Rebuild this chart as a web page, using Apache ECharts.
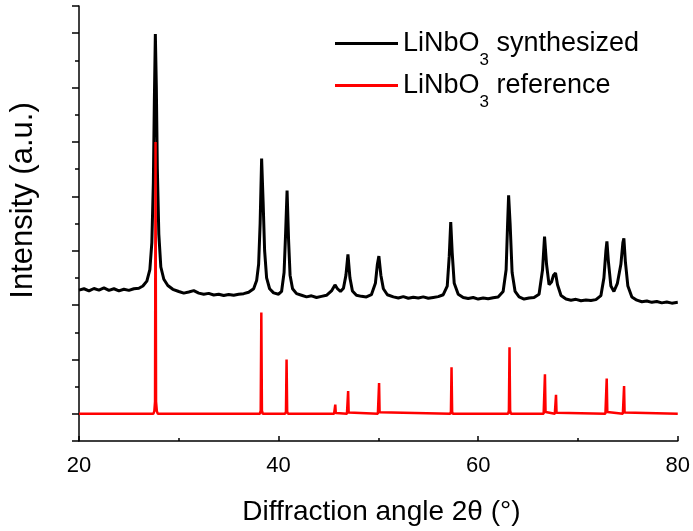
<!DOCTYPE html>
<html>
<head>
<meta charset="utf-8">
<script src="https://cdn.jsdelivr.net/npm/echarts@6/dist/echarts.min.js"></script>
<style>
html,body{margin:0;padding:0;background:#fff;}
#chart{width:693px;height:531px;}
</style>
</head>
<body>
<div id="chart"></div>
<script>
// Synthesized LiNbO3 pattern (2θ in degrees, intensity in plot units, offset trace)
const synthAngle = [20.0,20.5,21.0,21.5,22.0,22.5,23.0,23.5,24.0,24.5,25.0,25.5,26.0,26.4,26.8,27.1,27.3,27.45,27.55,27.65,27.75,27.85,28.0,28.2,28.5,28.9,29.4,30.0,30.5,31.0,31.5,32.0,32.5,33.0,33.5,34.0,34.5,35.0,35.5,36.0,36.5,37.0,37.5,37.8,38.0,38.15,38.3,38.45,38.6,38.8,39.1,39.5,40.0,40.3,40.55,40.7,40.85,41.0,41.15,41.4,41.8,42.3,42.8,43.3,43.8,44.3,44.8,45.3,45.65,45.9,46.2,46.5,46.75,46.95,47.15,47.4,47.8,48.3,48.8,49.3,49.7,49.9,50.05,50.25,50.5,50.9,51.5,52.0,52.5,53.0,53.5,54.0,54.5,55.0,55.5,56.0,56.5,56.9,57.1,57.25,57.4,57.6,58.0,58.5,59.0,59.5,60.0,60.5,61.0,61.5,62.0,62.5,62.8,62.95,63.05,63.2,63.4,63.7,64.1,64.6,65.1,65.6,66.1,66.45,66.65,66.85,67.1,67.35,67.55,67.75,67.95,68.3,68.8,69.3,69.8,70.3,70.8,71.3,71.8,72.3,72.6,72.8,72.9,73.05,73.3,73.6,73.95,74.3,74.5,74.6,74.75,75.0,75.4,75.9,76.4,76.9,77.4,77.9,78.4,78.9,79.4,80.0];
const synthInt = [4.55,4.60,4.52,4.61,4.55,4.63,4.54,4.60,4.52,4.58,4.54,4.60,4.62,4.70,4.88,5.3,6.3,8.5,11.5,13.97,12.0,9.0,6.6,5.4,4.95,4.72,4.58,4.50,4.44,4.48,4.53,4.44,4.40,4.43,4.37,4.40,4.35,4.39,4.36,4.40,4.42,4.47,4.6,4.9,5.5,7.0,9.39,7.8,6.0,5.0,4.6,4.45,4.40,4.5,5.2,6.6,8.21,6.4,5.1,4.6,4.42,4.36,4.30,4.34,4.28,4.32,4.36,4.52,4.74,4.6,4.5,4.62,5.1,5.86,5.0,4.52,4.36,4.32,4.30,4.38,4.8,5.5,5.80,5.1,4.6,4.38,4.30,4.26,4.31,4.25,4.29,4.26,4.30,4.25,4.28,4.31,4.38,4.7,5.8,7.05,5.9,4.8,4.4,4.28,4.24,4.28,4.22,4.26,4.23,4.27,4.30,4.5,5.3,7.0,8.04,7.0,5.2,4.5,4.30,4.22,4.26,4.28,4.4,5.3,6.52,5.5,4.75,4.85,5.1,5.18,4.75,4.35,4.22,4.18,4.21,4.16,4.19,4.17,4.20,4.35,5.0,6.0,6.34,5.6,4.7,4.5,4.8,5.5,6.3,6.45,5.6,4.7,4.3,4.18,4.12,4.15,4.10,4.13,4.08,4.11,4.07,4.10];

// Reference LiNbO3 pattern
const refAngle = [20,27.45,27.55,27.62,27.67,27.72,27.8,27.9,38.12,38.21,38.27,38.33,38.42,40.65,40.74,40.80,40.86,40.95,45.56,45.63,45.68,45.73,45.8,46.85,46.92,46.97,47.02,47.09,49.95,50.02,50.07,50.12,50.19,57.2,57.27,57.33,57.39,57.46,63.0,63.08,63.14,63.2,63.28,65.0,65.1,65.2,66.56,66.63,66.69,66.75,66.82,67.68,67.75,67.80,67.85,67.92,72.75,72.82,72.88,72.94,73.01,74.5,74.57,74.62,74.67,74.74,80];
const refInt = [0,0,0.1,0.45,10.0,0.45,0.1,0,0,0.12,3.73,0.12,0,0,0.08,2.0,0.08,0,0,0.03,0.34,0.03,0,0,0.05,0.84,0.05,0,0,0.06,1.13,0.06,0,0,0.08,1.71,0.08,0,0,0.12,2.45,0.12,0,0,0.06,0,0,0.07,1.45,0.07,0,0,0.04,0.70,0.04,0,0,0.07,1.30,0.07,0,0,0.05,1.02,0.05,0,0];

const xTickLabels = [20,40,60,80];
const yMajorTicks = [-1,0,2,4,6,8,10,12,14,15];
const seriesNames = ['synthesized','reference'];

const synthData = synthAngle.map((a,i)=>[a,synthInt[i]]);
const refData = refAngle.map((a,i)=>[a,refInt[i]]);

const FONT = '"Liberation Sans", Arial, sans-serif';
const legendRich = {
  a:{fontSize:27,fontFamily:FONT,color:'#000',verticalAlign:'middle',lineHeight:30},
  b:{fontSize:17,fontFamily:FONT,color:'#000',verticalAlign:'middle',lineHeight:17,padding:[34,0,0,0]}
};

const chart = echarts.init(document.getElementById('chart'),null,{renderer:'canvas'});
chart.setOption({
  animation:false,
  backgroundColor:'#fff',
  grid:{left:78,right:13,top:6,bottom:83,containLabel:false},
  legend:{
    orient:'vertical',left:330,top:13,
    icon:'rect',itemWidth:63,itemHeight:3,itemGap:-9,
    data:seriesNames,
    formatter:function(n){return '{a|LiNbO}{b|3}{a| '+n+'}';},
    textStyle:{rich:legendRich,fontFamily:FONT}
  },
  xAxis:{
    type:'value',min:20,max:80,interval:20,
    name:'Diffraction angle 2θ (°)',nameLocation:'middle',nameGap:57,
    nameTextStyle:{fontSize:28,fontFamily:FONT,color:'#000',padding:[0,0,0,6]},
    axisLine:{show:true,onZero:false,lineStyle:{color:'#000',width:1.5}},
    axisTick:{show:true,inside:true,length:5,lineStyle:{color:'#000',width:1.5}},
    minorTick:{show:true,splitNumber:2,length:3,lineStyle:{color:'#000',width:1.5}},
    axisLabel:{fontSize:22,fontFamily:FONT,color:'#000',margin:14,
      formatter:function(v){return xTickLabels.indexOf(v)>=0?String(v):'';}},
    splitLine:{show:false}
  },
  yAxis:[{
    type:'value',min:-1,max:15,interval:1,
    name:'Intensity (a.u.)',nameLocation:'middle',nameGap:40,
    nameTextStyle:{fontSize:31,fontFamily:FONT,color:'#000',padding:[0,0,0,46]},
    axisLine:{show:true,onZero:false,lineStyle:{color:'#000',width:1.5}},
    axisTick:{show:true,inside:false,length:4,lineStyle:{color:'#000',width:1.5}},
    axisLabel:{show:false},
    splitLine:{show:false}
  },{
    type:'value',min:-1,max:15,position:'left',offset:0,
    axisLine:{show:false},
    axisTick:{show:true,inside:false,length:7,customValues:yMajorTicks,lineStyle:{color:'#000',width:1.5}},
    axisLabel:{show:false},
    splitLine:{show:false}
  }],
  series:[{
    name:seriesNames[0],type:'line',data:synthData,yAxisIndex:0,
    showSymbol:false,symbol:'none',smooth:false,
    lineStyle:{color:'#000',width:3},itemStyle:{color:'#000'},z:3
  },{
    name:seriesNames[1],type:'line',data:refData,yAxisIndex:0,
    showSymbol:false,symbol:'none',smooth:false,
    lineStyle:{color:'#ff0000',width:2.5},itemStyle:{color:'#ff0000'},z:4
  }]
});
</script>
</body>
</html>
